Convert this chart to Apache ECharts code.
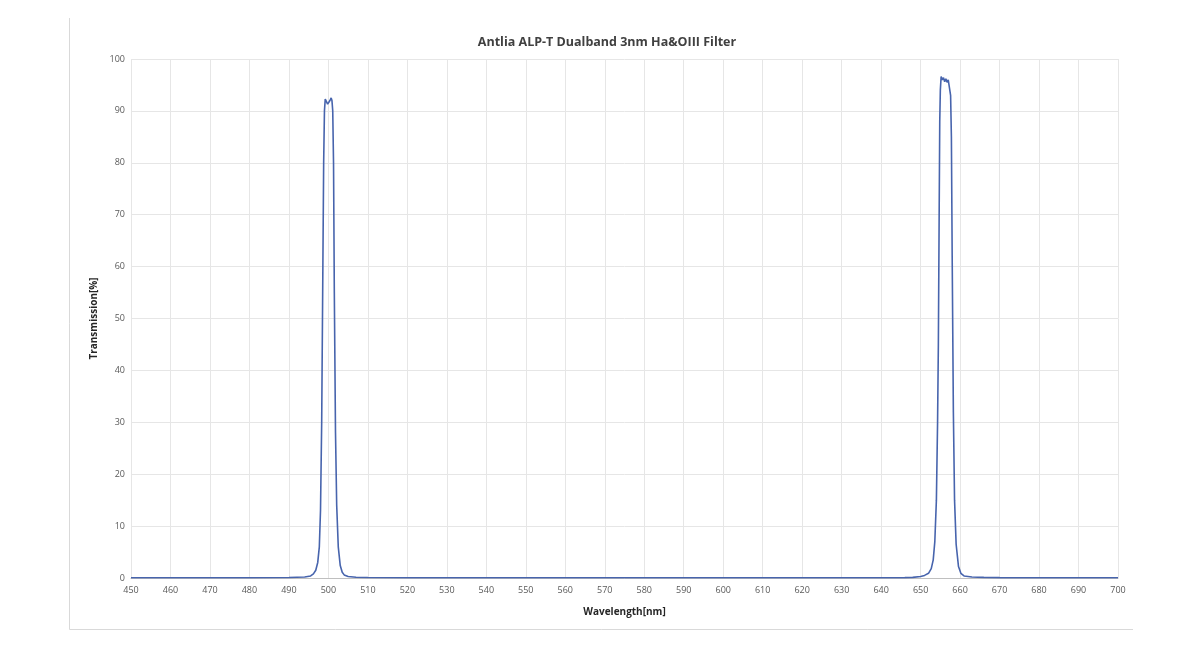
<!DOCTYPE html>
<html>
<head>
<meta charset="utf-8">
<script src="https://cdn.jsdelivr.net/npm/echarts@6/dist/echarts.min.js"></script>
<style>html,body{margin:0;padding:0;background:#fff}#c{width:1200px;height:650px}</style>
</head>
<body>
<div id="c"></div>
<script>
var titleText = "Antlia ALP-T Dualband 3nm Ha&OIII Filter";
var xName = "Wavelength[nm]";
var yName = "Transmission[%]";
var wavelength = [450,460,470,480,490,494,495.5,496.2,496.8,497.3,497.7,498.0,498.3,498.6,498.8,499.0,499.2,499.5,499.8,500.1,500.4,500.7,500.9,501.1,501.3,501.5,501.8,502.1,502.5,503.0,503.5,504,505,507,510,520,540,560,580,600,620,640,646,648,650,651,652,652.7,653.2,653.6,654.0,654.3,654.5,654.7,654.85,655.0,655.2,655.5,655.8,656.1,656.4,656.7,657.0,657.3,657.6,657.8,658.0,658.3,658.6,659.0,659.6,660.2,661,663,666,670,680,690,700];
var transmission = [0.05,0.05,0.05,0.05,0.1,0.2,0.4,0.8,1.5,3,6,13,30,60,80,90,92.3,92.0,91.3,91.5,92.0,92.5,92.0,90,80,55,28,14,6,2.4,1.1,0.6,0.3,0.15,0.1,0.05,0.05,0.05,0.05,0.05,0.05,0.05,0.08,0.12,0.3,0.5,0.9,1.8,3.5,7,15,30,45,70,88,94,96.6,96.0,96.4,95.6,96.2,95.5,96.0,95.8,93,85,62,32,15,6.5,2.2,0.9,0.4,0.2,0.12,0.08,0.05,0.05,0.05];

var data = wavelength.map(function(w,i){return [w, transmission[i]];});
var chart = echarts.init(document.getElementById('c'));
chart.setOption({
  animation:false,
  backgroundColor:'#fff',
  graphic:[
    {type:'line',shape:{x1:69.5,y1:18,x2:69.5,y2:629.5},style:{stroke:'#d9d9d9',lineWidth:1}},
    {type:'line',shape:{x1:69.5,y1:629.5,x2:1133,y2:629.5},style:{stroke:'#d9d9d9',lineWidth:1}},
    {type:'text',x:607,y:42,style:{text:titleText,textAlign:'center',textVerticalAlign:'middle',font:'bold 12.5px "Open Sans"',fill:'#404040'}}
  ],
  grid:{left:131,right:82,top:59,bottom:72},
  xAxis:{type:'value',min:450,max:700,interval:10,
    name:xName,nameLocation:'middle',nameGap:29,
    nameTextStyle:{fontFamily:'Open Sans',fontSize:10,fontWeight:'bold',color:'#262626'},
    axisLine:{lineStyle:{color:'#bfbfbf'}},axisTick:{show:false},
    axisLabel:{fontFamily:'Open Sans',fontSize:9,color:'#595959',margin:8},
    splitLine:{show:true,lineStyle:{color:'#e6e6e6'}}},
  yAxis:{type:'value',min:0,max:100,interval:10,
    name:yName,nameLocation:'middle',nameGap:32,
    nameTextStyle:{fontFamily:'Open Sans',fontSize:10,fontWeight:'bold',color:'#262626'},
    axisLine:{show:false},axisTick:{show:false},
    axisLabel:{fontFamily:'Open Sans',fontSize:9,color:'#595959',margin:6},
    splitLine:{show:true,lineStyle:{color:'#e6e6e6'}}},
  series:[{type:'line',data:data,showSymbol:false,smooth:false,
    lineStyle:{color:'#4764ad',width:1.6}}]
});
</script>
</body>
</html>
